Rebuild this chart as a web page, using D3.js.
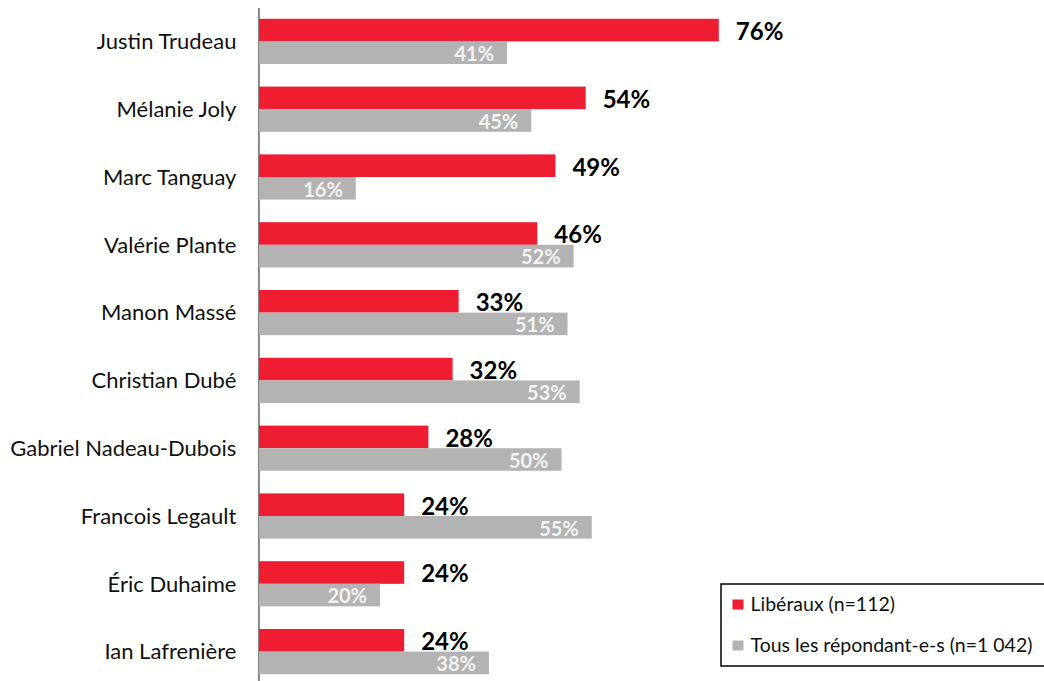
<!DOCTYPE html>
<html><head><meta charset="utf-8">
<script src="https://cdn.jsdelivr.net/npm/d3@7"></script>
<style>html,body{margin:0;padding:0;background:#fff;}svg{display:block;}</style>
</head><body>
<svg id="c" width="1044" height="681"></svg>
<script>
const names = ["Justin Trudeau","Mélanie Joly","Marc Tanguay","Valérie Plante","Manon Massé","Christian Dubé","Gabriel Nadeau-Dubois","Francois Legault","Éric Duhaime","Ian Lafrenière"];
const liberaux = [76,54,49,46,33,32,28,24,24,24];
const tous = [41,45,16,52,51,53,50,55,20,38];
const seriesNames = ["Libéraux (n=112)","Tous les répondant-e-s (n=1 042)"];
const colors = ["#EE1D31","#B3B3B3"];

const font = "Lato, 'Open Sans', sans-serif";
const svg = d3.select("#c");
const x = d3.scaleLinear().domain([0,100]).range([259, 259+605]);
const y = d3.scaleBand().domain(names).range([7.5, 685.5]).paddingInner(1/3).paddingOuter(1/6);
const bh = y.bandwidth()/2;

// axis
const ax = svg.append("g").attr("transform","translate(258.4,0)")
  .call(d3.axisLeft(y).tickSize(0).tickSizeOuter(0).tickPadding(22));
ax.select(".domain").attr("stroke","#868686").attr("stroke-width",2);
ax.selectAll("text").attr("font-family",font).attr("font-size",22).attr("fill","#111").attr("dy","0.35em");

const g = svg.append("g");
names.forEach((n,i)=>{
  const y0 = y(n);
  g.append("rect").attr("x",x(0)).attr("y",y0).attr("width",x(liberaux[i])-x(0)).attr("height",bh).attr("fill",colors[0]);
  g.append("rect").attr("x",x(0)).attr("y",y0+bh).attr("width",x(tous[i])-x(0)).attr("height",bh).attr("fill",colors[1]);
  g.append("text").attr("x",x(liberaux[i])+17).attr("y",y0+bh-1.5)
    .attr("font-family",font).attr("font-weight",700).attr("font-size",24).attr("fill","#000")
    .text(liberaux[i]+"%");
  g.append("text").attr("x",x(tous[i])-13).attr("y",y0+2*bh-3).attr("text-anchor","end")
    .attr("font-family",font).attr("font-weight",700).attr("font-size",20).attr("fill","#F2F2F2")
    .text(tous[i]+"%");
});

// legend
const lg = svg.append("g");
lg.append("rect").attr("x",721).attr("y",584).attr("width",340).attr("height",82)
  .attr("fill","#fff").attr("stroke","#000").attr("stroke-width",1.5);
seriesNames.forEach((s,i)=>{
  const yy = 604 + i*41;
  lg.append("rect").attr("x",732.5).attr("y",yy-4.5).attr("width",11).attr("height",10).attr("fill",colors[i]);
  lg.append("text").attr("x",750.5).attr("y",yy+6.5).attr("font-family",font).attr("font-size",19.5).attr("fill","#111").text(s);
});
</script>
</body></html>
